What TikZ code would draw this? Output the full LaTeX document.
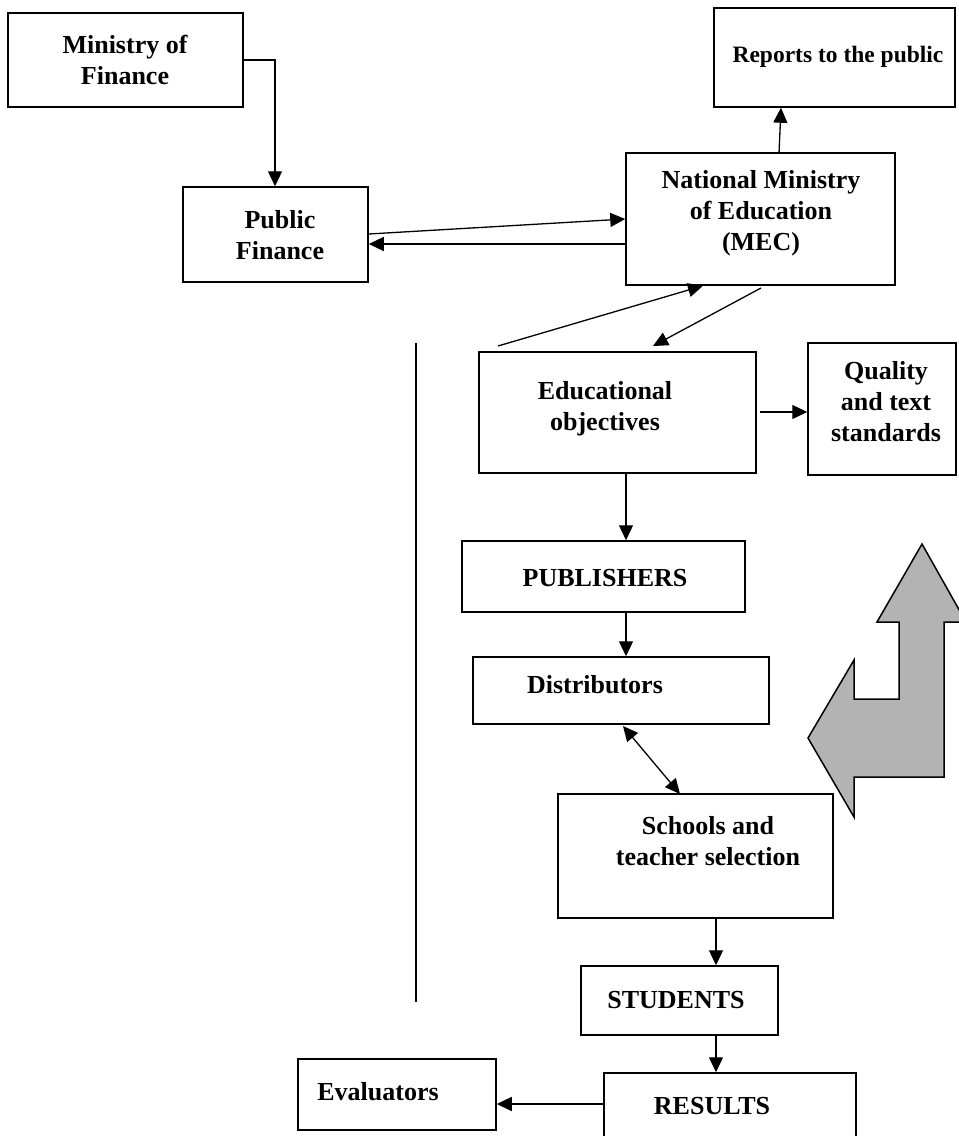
\documentclass[tikz,border=0pt]{standalone}
\usepackage{fontspec}
\setmainfont{Liberation Serif}
\usetikzlibrary{arrows.meta,calc}
\definecolor{arrowgrey}{RGB}{179,179,179}
\tikzset{
  box/.style={draw=black, line width=1.5pt, rectangle, inner sep=0pt},
  txt/.style={align=center, inner sep=0pt, font=\fontsize{26}{31}\selectfont\bfseries},
  smalltxt/.style={txt, font=\fontsize{23.5}{31}\selectfont\bfseries},
  conn/.style={line width=1.3pt, -{Triangle[length=15pt,width=14pt]}},
  dconn/.style={line width=1.3pt, {Triangle[length=15pt,width=14pt]}-{Triangle[length=15pt,width=14pt]}},
}
% a box given by its corners (x1,y1) and (x2,y2)
\newcommand{\boxat}[5]{%
  \node[box, minimum width={#4-#2}, minimum height={#5-#3}] (#1) at ({(#2+#4)/2},{(#3+#5)/2}) {};}
\begin{document}
\begin{tikzpicture}[x=1pt,y=-1pt]
\useasboundingbox (0,0) rectangle (959,1136);

% boxes
\boxat{mof}{8}{13}{243}{107}
\boxat{pf}{183}{187}{368}{282}
\boxat{rep}{714}{8}{955}{107}
\boxat{mec}{626}{153}{895}{285}
\boxat{edu}{479}{352}{756}{473}
\boxat{qual}{808}{343}{956}{475}
\boxat{pub}{462}{541}{745}{612}
\boxat{dist}{473}{657}{769}{724}
\boxat{sch}{558}{794}{833}{918}
\boxat{stu}{581}{966}{778}{1035}
\boxat{res}{604}{1073}{856}{1150}
\boxat{eva}{298}{1059}{496}{1130}

% labels
\node[txt] (tmof) at (125,60) {Ministry of\\Finance};
\node[txt] (tpf) at (280,235) {Public\\Finance};
\node[smalltxt] (trep) at (838,57) {Reports to the public};
\node[txt] (tmec) at (761,213) {National Ministry\\of Education\\(MEC)};
\node[txt] (tedu) at (605,409) {Educational\\objectives};
\node[txt] (tqual) at (886,402) {Quality\\and text\\standards};
\node[txt] (tpub) at (605,578) {PUBLISHERS};
\node[txt] (tdist) at (595,685) {Distributors};
\node[txt] (tsch) at (708,841) {Schools and\\teacher selection};
\node[txt] (tstu) at (676,1000) {STUDENTS};
\node[txt] (tres) at (712,1106) {RESULTS};
\node[txt] (teva) at (378,1092) {Evaluators};

% free ends of the two slanted connectors
\coordinate (upstart) at (498,346);
\coordinate (downstart) at (761,288);

% connectors
\draw[conn] (mof.east |- 0,60) -| (pf.north -| 275,0);
\draw[conn] (pf.east |- 0,234) -- (mec.west |- 0,219);
\draw[conn] (mec.west |- 0,244) -- (pf.east |- 0,244);
\draw[conn] (mec.south -| 779,0) ++(0,-132) -- (rep.south -| 781,0);
\draw[conn] (upstart) -- (mec.south -| 703,0);
\draw[conn] (downstart) -- (653,346);
\draw[conn] (760,412) -- (qual.west |- 0,412);
\draw[conn] (edu.south -| 626,0) -- (pub.north -| 626,0);
\draw[conn] (pub.south -| 626,0) -- (dist.north -| 626,0);
\draw[dconn] (623,726) -- (680,794);
\draw[conn] (sch.south -| 716,0) -- (stu.north -| 716,0);
\draw[conn] (stu.south -| 716,0) -- (res.north -| 716,0);
\draw[conn] (res.west |- 0,1104) -- (eva.east |- 0,1104);

% separator line
\draw[line width=1.3pt] (416,343) -- (416,1002);

% grey bent arrow
\draw[line width=1.5pt, fill=arrowgrey, line join=miter]
  (922,544) -- (966,622) -- (944,622) -- (944,777) -- (854,777) -- (854,817)
  -- (808,738) -- (854,660) -- (854,699) -- (899,699) -- (899,622) -- (877,622) -- cycle;
\end{tikzpicture}
\end{document}
